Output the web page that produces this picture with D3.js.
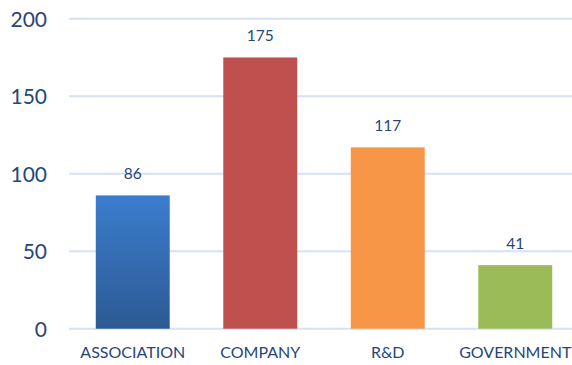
<!DOCTYPE html>
<html>
<head>
<meta charset="utf-8">
<script src="https://cdn.jsdelivr.net/npm/d3@7"></script>
<style>
  html, body { margin: 0; padding: 0; background: #fff; }
  svg { display: block; }
</style>
</head>
<body>
<svg id="chart" width="572" height="365"></svg>
<script>
// Counts by organisation type
const categories = ["ASSOCIATION", "COMPANY", "R&D", "GOVERNMENT"];
const values = [86, 175, 117, 41];
const yTicks = [0, 50, 100, 150, 200];
const barColors = ["#3a78c6", "#c0504d", "#f79646", "#9bbb59"];

const width = 572, height = 365;
const svg = d3.select("#chart");
const textColor = "#26467a";
const font = "Lato, 'Open Sans', sans-serif";

const x = d3.scaleBand().domain(categories).range([69, 579])
  .paddingInner(0.42).paddingOuter(0.21);
const y = d3.scaleLinear().domain([0, 200]).range([328.7, 18.7]);

// vertical gradient for the first bar
const defs = svg.append("defs");
const grad = defs.append("linearGradient")
  .attr("id", "blueGrad").attr("x1", 0).attr("y1", 0).attr("x2", 0).attr("y2", 1);
grad.append("stop").attr("offset", "0%").attr("stop-color", "#3b7dce");
grad.append("stop").attr("offset", "100%").attr("stop-color", "#2c5a93");

// horizontal gridlines
svg.append("g").selectAll("line").data(yTicks).join("line")
  .attr("x1", 69).attr("x2", width)
  .attr("y1", d => y(d)).attr("y2", d => y(d))
  .attr("stroke", "#d6e2f2").attr("stroke-width", 2);

// y axis labels
const yAxis = d3.axisLeft(y).tickValues(yTicks).tickSize(0).tickPadding(0);
const gy = svg.append("g").attr("transform", "translate(47,0)").call(yAxis);
gy.select(".domain").remove();
gy.selectAll("text")
  .attr("fill", textColor)
  .style("font-family", font)
  .style("font-size", "21px")
  .attr("dy", "0.36em");

// bars
svg.append("g").selectAll("rect").data(values).join("rect")
  .attr("x", (d, i) => x(categories[i]))
  .attr("width", x.bandwidth())
  .attr("y", d => y(d))
  .attr("height", d => y(0) - y(d))
  .attr("fill", (d, i) => i === 0 ? "url(#blueGrad)" : barColors[i]);

// value labels
svg.append("g").selectAll("text").data(values).join("text")
  .attr("x", (d, i) => x(categories[i]) + x.bandwidth() / 2)
  .attr("y", d => y(d) - 16)
  .attr("text-anchor", "middle")
  .attr("fill", textColor)
  .style("font-family", font)
  .style("font-size", "15.5px")
  .text(d => d);

// category axis labels
const xAxis = d3.axisBottom(x).tickSize(0).tickPadding(0);
const gx = svg.append("g").attr("transform", "translate(0,347)").call(xAxis);
gx.select(".domain").remove();
gx.selectAll("text")
  .attr("fill", textColor)
  .style("font-family", font)
  .style("font-size", "16px")
  .attr("dy", "0.71em");
</script>
</body>
</html>
